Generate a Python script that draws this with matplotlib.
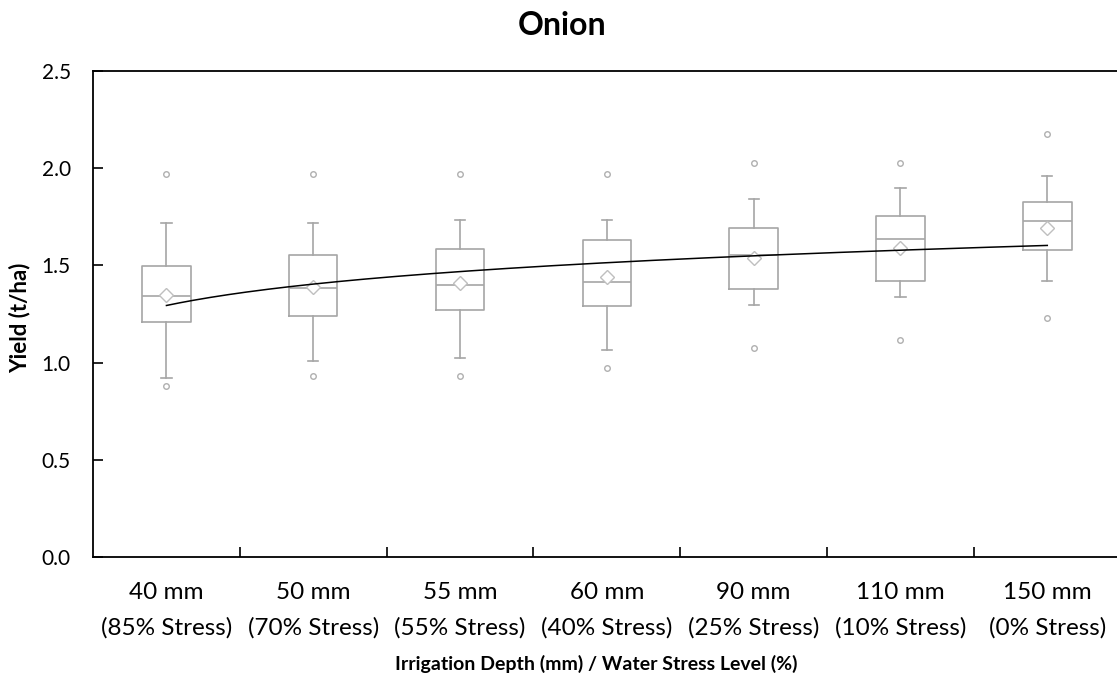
import numpy as np
import matplotlib.pyplot as plt

plt.rcParams['font.family'] = ['Lato', 'DejaVu Sans']

# irrigation treatments
depth_labels = ["40 mm\n(85% Stress)", "50 mm\n(70% Stress)", "55 mm\n(55% Stress)",
                "60 mm\n(40% Stress)", "90 mm\n(25% Stress)", "110 mm\n(10% Stress)",
                "150 mm\n(0% Stress)"]

# yield summary per treatment (t/ha)
whisker_low = [0.92, 1.01, 1.025, 1.065, 1.295, 1.335, 1.42]
q1 = [1.21, 1.24, 1.27, 1.29, 1.38, 1.42, 1.58]
median = [1.345, 1.385, 1.40, 1.415, 1.555, 1.635, 1.73]
q3 = [1.495, 1.555, 1.585, 1.63, 1.69, 1.755, 1.825]
whisker_high = [1.72, 1.72, 1.735, 1.735, 1.84, 1.90, 1.96]
mean_yield = [1.35, 1.39, 1.41, 1.44, 1.54, 1.59, 1.69]
outlier_high = [1.97, 1.97, 1.97, 1.97, 2.025, 2.025, 2.175]
outlier_low = [0.88, 0.93, 0.93, 0.97, 1.075, 1.115, 1.23]

stats = []
for i in range(len(depth_labels)):
    stats.append(dict(whislo=whisker_low[i], q1=q1[i], med=median[i], q3=q3[i],
                      whishi=whisker_high[i], mean=mean_yield[i],
                      fliers=[outlier_low[i], outlier_high[i]]))

pos = np.arange(1, len(depth_labels) + 1)

fig = plt.figure(figsize=(11.17, 6.76), dpi=100)
ax = fig.add_axes([0.0833, 0.176, 0.92, 0.719])

grey = '#a6a6a6'
ax.bxp(stats, positions=pos, widths=0.33, showmeans=True, patch_artist=False,
       boxprops=dict(color=grey, linewidth=1.2),
       medianprops=dict(color=grey, linewidth=1.2),
       whiskerprops=dict(color=grey, linewidth=1.2),
       capprops=dict(color=grey, linewidth=1.2),
       capwidths=0.07,
       meanprops=dict(marker='D', markerfacecolor='white', markeredgecolor='#bfbfbf',
                      markersize=7, markeredgewidth=1.0),
       flierprops=dict(marker='o', markerfacecolor='white', markeredgecolor='#b0b0b0',
                       markersize=4, markeredgewidth=1.0))

# logarithmic trend through the means
b, a = np.polyfit(np.log(pos), mean_yield, 1)
xs = np.linspace(1, len(pos), 200)
ax.plot(xs, a + b * np.log(xs), color='black', linewidth=1.1, zorder=5)

ax.set_xlim(0.5, len(pos) + 0.5)
ax.set_ylim(0, 2.5)
ax.set_yticks(np.arange(0, 2.51, 0.5))
ax.set_yticklabels([f"{v:.1f}" for v in np.arange(0, 2.51, 0.5)], fontsize=15)
ax.set_xticks(pos)
ax.set_xticklabels(depth_labels, fontsize=17.5, linespacing=1.8)
ax.set_xticks(pos[:-1] + 0.5, minor=True)
ax.tick_params(axis='x', which='major', length=0, pad=18)
ax.tick_params(axis='x', which='minor', direction='in', length=7, width=1.2)
ax.tick_params(axis='y', direction='in', length=7, width=1.2, pad=16)

ax.spines['right'].set_visible(False)
for s in ['left', 'bottom', 'top']:
    ax.spines[s].set_linewidth(1.3)
    ax.spines[s].set_color('black')

fig.text(0.018, 0.530, "Yield (t/ha)", fontsize=16, fontweight='bold',
         rotation=90, ha='center', va='center')
fig.text(0.534, 0.018, "Irrigation Depth (mm) / Water Stress Level (%)",
         fontsize=14, fontweight='bold', ha='center', va='center')
fig.text(0.503, 0.962, "Onion", fontsize=23, fontweight='bold', ha='center', va='center')

fig.savefig("out.png", dpi=100)
